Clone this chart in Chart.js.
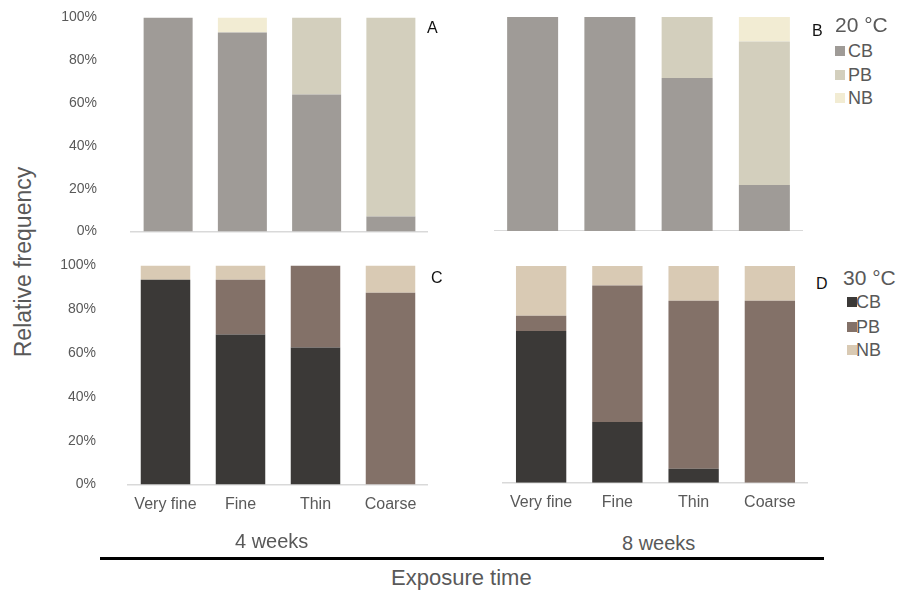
<!DOCTYPE html>
<html>
<head>
<meta charset="utf-8">
<script src="https://cdn.jsdelivr.net/npm/chart.js@4.4.1/dist/chart.umd.min.js"></script>
<style>
    body { margin: 0; background: #fff; width: 899px; height: 594px; position: relative; overflow: hidden; font-family: 'Liberation Sans', Arial, sans-serif; }
    .box { position: absolute; }
    .txt { position: absolute; line-height: 1; white-space: nowrap; }
    .panel { color: #111; font-size: 16px; }
    .gray { color: #595959; }
    .leg div { position: absolute; white-space: nowrap; line-height: 1; font-size: 18px; color: #595959; }
    .leg span { position: absolute; width: 10px; height: 10px; }
</style>
</head>
<body>
<!-- y tick padding also pads the plot vertically, so the left boxes start higher -->
<div class="box" id="wA" style="left:55px;top:-25px;width:373px;height:299px"><canvas id="chartA"></canvas></div>
<div class="box" id="wB" style="left:494px;top:17px;width:309px;height:214px"><canvas id="chartB"></canvas></div>
<div class="box" id="wC" style="left:55px;top:225px;width:373px;height:300px"><canvas id="chartC"></canvas></div>
<div class="box" id="wD" style="left:500px;top:266px;width:308px;height:256px"><canvas id="chartD"></canvas></div>

<div class="txt panel" style="left:427px;top:20px">A</div>
<div class="txt panel" style="left:812px;top:23px">B</div>
<div class="txt panel" style="left:431px;top:270px">C</div>
<div class="txt panel" style="left:816px;top:276px">D</div>

<div class="leg" id="leg20" style="position:absolute;left:835px;top:14px"></div>
<div class="leg" id="leg30" style="position:absolute;left:843px;top:267px"></div>

<div class="txt gray" style="left:235px;top:531px;font-size:20px">4 weeks</div>
<div class="txt gray" style="left:622px;top:533px;font-size:20px">8 weeks</div>
<div style="position:absolute;left:100px;top:557px;width:724px;height:3px;background:#000"></div>
<div class="txt gray" style="left:391px;top:567px;font-size:22px">Exposure time</div>
<div class="txt gray" style="left:23px;top:262px;font-size:23px;transform:translate(-50%,-50%) rotate(-90deg)">Relative frequency</div>

<script>
// categories and series
const sizes = ['Very fine', 'Fine', 'Thin', 'Coarse'];
const seriesNames = ['CB', 'PB', 'NB'];
const yTicks = [0, 20, 40, 60, 80, 100];

// 20 °C, 4 weeks (A) and 8 weeks (B), in %
const cb20w4 = [100, 93, 64, 7];
const pb20w4 = [0, 0, 36, 93];
const nb20w4 = [0, 7, 0, 0];
const cb20w8 = [100, 100, 71.5, 21.5];
const pb20w8 = [0, 0, 28.5, 67];
const nb20w8 = [0, 0, 0, 11.5];

// 30 °C, 4 weeks (C) and 8 weeks (D), in %
const cb30w4 = [93.5, 68.5, 62.5, 0];
const pb30w4 = [0, 25, 37.5, 87.5];
const nb30w4 = [6.5, 6.5, 0, 12.5];
const cb30w8 = [70, 28, 6.5, 0];
const pb30w8 = [7, 63, 77.5, 84];
const nb30w8 = [23, 9, 16, 16];

const colors20 = ['#9f9b97', '#d3cfbd', '#f2ecd3'];
const colors30 = ['#3b3937', '#837168', '#d9cab4'];

const tickFont = { family: "'Liberation Sans', Arial, sans-serif", size: 14 };

function makeChart(id, values, colors, showY, showX, yWidth, yPad) {
    let ctx = document.getElementById(id).getContext('2d');
    return new Chart(ctx, {
        type: 'bar',
        data: {
            labels: sizes,
            datasets: seriesNames.map(function (name, i) {
                return {
                    label: name,
                    data: values[i],
                    backgroundColor: colors[i],
                    borderWidth: 0,
                    barPercentage: 0.66,
                    categoryPercentage: 1
                };
            })
        },
        options: {
            responsive: true,
            maintainAspectRatio: false,
            animation: false,
            plugins: { legend: { display: false }, tooltip: { enabled: false } },
            scales: {
                x: {
                    stacked: true,
                    grid: { display: true, drawOnChartArea: false, drawTicks: false },
                    border: { display: true, color: '#d9d9d9', width: 1.5 },
                    ticks: { display: showX, color: '#595959', padding: 10,
                        font: { family: "'Liberation Sans', Arial, sans-serif", size: 16 } }
                },
                y: {
                    display: showY,
                    stacked: true,
                    min: 0,
                    max: 100,
                    afterBuildTicks: function (scale) {
                        scale.ticks = yTicks.map(function (v) { return { value: v }; });
                    },
                    afterFit: function (scale) { if (yWidth) scale.width = yWidth; },
                    grid: { display: false, drawTicks: false },
                    border: { display: false },
                    ticks: { color: '#595959', padding: yPad || 0, font: tickFont,
                        callback: function (v) { return v + '%'; } }
                }
            }
        }
    });
}

makeChart('chartA', [cb20w4, pb20w4, nb20w4], colors20, true, false, 76, 34);
makeChart('chartB', [cb20w8, pb20w8, nb20w8], colors20, false, false);
makeChart('chartC', [cb30w4, pb30w4, nb30w4], colors30, true, true, 73, 32);
makeChart('chartD', [cb30w8, pb30w8, nb30w8], colors30, false, true);

// legends built from the series names and colours
function makeLegend(id, title, colors, sqX, textX, rowY) {
    let el = document.getElementById(id);
    let html = '<div style="left:0;top:0;font-size:21px">' + title + '</div>';
    seriesNames.forEach(function (name, i) {
        html += '<span style="left:' + sqX + 'px;top:' + (rowY[i] - 5) + 'px;background:' + colors[i] + '"></span>';
        html += '<div style="left:' + textX + 'px;top:' + (rowY[i] - 9) + 'px">' + name + '</div>';
    });
    el.innerHTML = html;
}
makeLegend('leg20', '20 °C', colors20, 0, 13, [37, 61, 84]);
makeLegend('leg30', '30 °C', colors30, 4, 13, [35, 60, 83]);
</script>
</body>
</html>
